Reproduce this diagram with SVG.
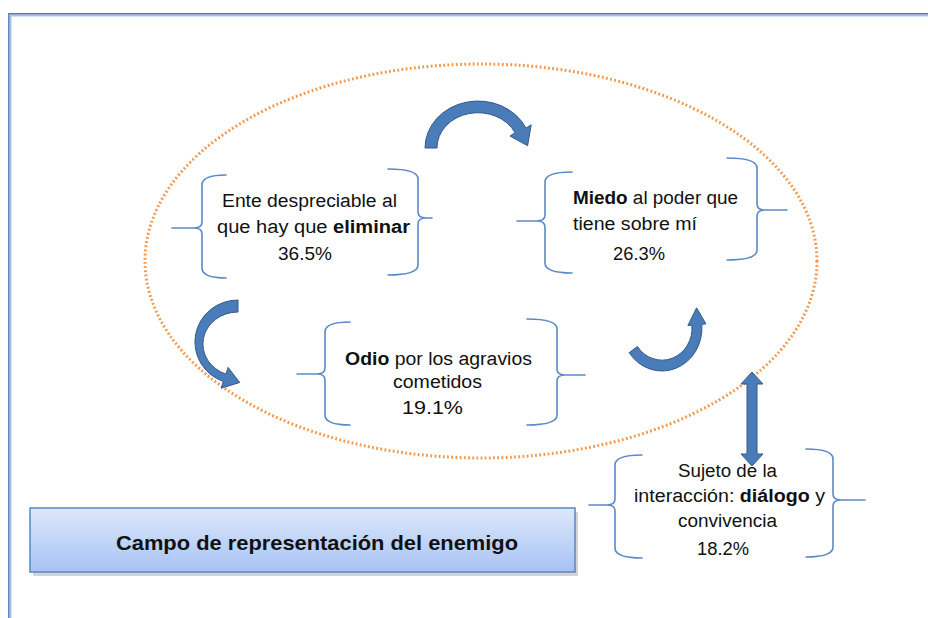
<svg xmlns="http://www.w3.org/2000/svg" width="928" height="618" viewBox="0 0 928 618">
<defs>
<linearGradient id="boxg" x1="0" y1="0" x2="0" y2="1">
<stop offset="0" stop-color="#dde8fb"/>
<stop offset="1" stop-color="#a7c3f4"/>
</linearGradient>
</defs>
<style>
.brace{fill:none;stroke:#5b89c8;stroke-width:1.6;stroke-linecap:round}
.t{font-family:"Liberation Sans",Arial,sans-serif;font-size:18px;fill:#111}
.b{font-weight:bold}
.arr{fill:#4a7cba;stroke:#34598a;stroke-width:1}
</style>
<rect width="928" height="618" fill="#ffffff"/>
<g id="frame">
<path d="M10.5,618 V15.5 H928" fill="none" stroke="#a9c3e6" stroke-width="2"/>
<path d="M8.8,618 V13.8 H928" fill="none" stroke="#4f7cb8" stroke-width="1.4"/>
</g>
<g id="ellipse">
<ellipse cx="481" cy="261" rx="336" ry="197" fill="none" stroke="#f79646" stroke-width="3" stroke-dasharray="1.8 2.4"/>
</g>
<g id="connectors">
<path class="arr" d="M425,148 A53,47 0 0 1 526,128.1 L531.2,124.8 L527.6,145.7 L510,136 L515.1,132.8 A41,35 0 0 0 437,148 Z"/>
<path class="arr" d="M238,300 A43,42 0 0 0 223.3,381.5 L221.1,388.2 L239.7,382.5 L228.1,367.4 L226,374.1 A35,32 0 0 1 238,312 Z"/>
<path class="arr" d="M629.2,352.7 A40,43 0 0 0 701.8,324.3 L705.9,323.9 L696.6,307.8 L687.9,325.5 L691.9,325.2 A30,32 0 0 1 637.4,346.4 Z"/>
<path class="arr" d="M752,372 L763,384 L757,384 L757,454 L763,454 L752,466 L741,454 L747,454 L747,384 L741,384 Z"/>
</g>
<g id="node-ente">
<path class="brace" d="M226,175 Q202,175 202,185 L202,222 Q202,228 194,228 L172,228 M194,228 Q202,228 202,234 L202,268 Q202,278 226,278"/>
<path class="brace" d="M388,169 Q418,169 418,179 L418,212 Q418,218 426,218 L432,218 M426,218 Q418,218 418,224 L418,265 Q418,275 388,275"/>
<text class="t" x="222" y="207" textLength="175" lengthAdjust="spacingAndGlyphs">Ente despreciable al</text>
<text class="t" x="217" y="233" textLength="193" lengthAdjust="spacingAndGlyphs">que hay que <tspan class="b">eliminar</tspan></text>
<text class="t" x="278" y="260" textLength="54" lengthAdjust="spacingAndGlyphs">36.5%</text>
</g>
<g id="node-miedo">
<path class="brace" d="M572,172 Q545,172 545,182 L545,215 Q545,221 537,221 L517,221 M537,221 Q545,221 545,227 L545,263 Q545,273 572,273"/>
<path class="brace" d="M727,158 Q757,158 757,168 L757,204 Q757,210 765,210 L787,210 M765,210 Q757,210 757,216 L757,250 Q757,260 727,260"/>
<text class="t" x="573" y="204" textLength="165" lengthAdjust="spacingAndGlyphs"><tspan class="b">Miedo</tspan> al poder que</text>
<text class="t" x="573" y="230" textLength="124" lengthAdjust="spacingAndGlyphs">tiene sobre mí</text>
<text class="t" x="613" y="260" textLength="52" lengthAdjust="spacingAndGlyphs">26.3%</text>
</g>
<g id="node-odio">
<path class="brace" d="M350,322 Q325,322 325,332 L325,368 Q325,374 317,374 L297,374 M317,374 Q325,374 325,380 L325,415 Q325,425 350,425"/>
<path class="brace" d="M527,319 Q557,319 557,329 L557,369 Q557,375 565,375 L585,375 M565,375 Q557,375 557,381 L557,415 Q557,425 527,425"/>
<text class="t" x="345" y="365" textLength="187" lengthAdjust="spacingAndGlyphs"><tspan class="b">Odio</tspan>  por los agravios</text>
<text class="t" x="393" y="388" textLength="89" lengthAdjust="spacingAndGlyphs">cometidos</text>
<text class="t" x="402" y="414" textLength="61" lengthAdjust="spacingAndGlyphs">19.1%</text>
</g>
<g id="node-sujeto">
<path class="brace" d="M642,455 Q615,455 615,465 L615,499 Q615,505 607,505 L589,505 M607,505 Q615,505 615,511 L615,548 Q615,558 642,558"/>
<path class="brace" d="M806,449 Q833,449 833,459 L833,494 Q833,500 841,500 L865,500 M841,500 Q833,500 833,506 L833,547 Q833,557 806,557"/>
<text class="t" x="678" y="477" textLength="99" lengthAdjust="spacingAndGlyphs">Sujeto de la</text>
<text class="t" x="634" y="502" textLength="191" lengthAdjust="spacingAndGlyphs">interacción: <tspan class="b">diálogo</tspan> y</text>
<text class="t" x="678" y="527" textLength="99" lengthAdjust="spacingAndGlyphs">convivencia</text>
<text class="t" x="697" y="555" textLength="52" lengthAdjust="spacingAndGlyphs">18.2%</text>
</g>
<g id="node-campo">
<rect x="33" y="512" width="545" height="64" fill="#b8b8b8" opacity="0.6"/>
<rect x="30" y="508" width="545" height="64" fill="url(#boxg)" stroke="#5a86c2" stroke-width="1.5"/>
<text class="t b" x="116" y="550" style="font-size:21px" textLength="402" lengthAdjust="spacingAndGlyphs">Campo de representación del enemigo</text>
</g>
</svg>
